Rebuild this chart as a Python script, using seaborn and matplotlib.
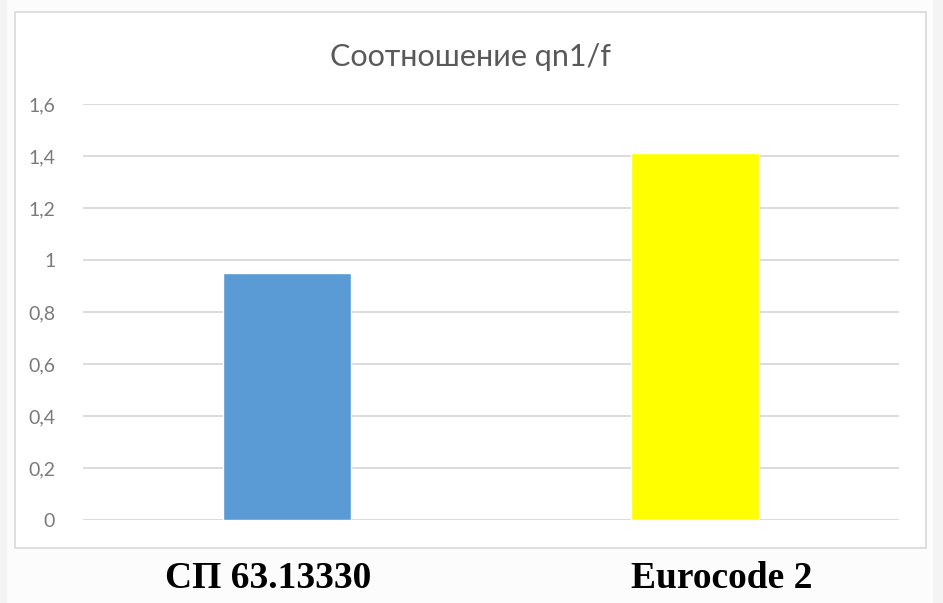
import matplotlib
matplotlib.use("Agg")
import matplotlib.pyplot as plt
from matplotlib.patches import Rectangle
import seaborn as sns
import pandas as pd

categories = ["СП 63.13330", "Eurocode 2"]
values = [0.95, 1.41]
bar_colors = ["#5b9bd5", "#ffff00"]
title = "Соотношение qn1/f"
y_ticks = [0, 0.2, 0.4, 0.6, 0.8, 1.0, 1.2, 1.4, 1.6]
y_tick_labels = ["0", "0,2", "0,4", "0,6", "0,8", "1", "1,2", "1,4", "1,6"]

sns.set_theme(style="white")
plt.rcParams["font.family"] = ["Lato", "DejaVu Sans"]

W, H = 943, 603
fig = plt.figure(figsize=(W / 100, H / 100), dpi=100)
fig.patch.set_facecolor("#f4f4f4")

def px(x0, y0, x1, y1):
    """Convert a pixel box (top-left origin) to figure fractions."""
    return x0 / W, 1 - y1 / H, (x1 - x0) / W, (y1 - y0) / H

# page background and the chart frame
fx, fy, fw, fh = px(7, 0, 933, 603)
fig.patches.append(Rectangle((fx, fy), fw, fh, transform=fig.transFigure,
                             facecolor="#fcfcfc", edgecolor="none", zorder=-2))
bx, by, bw, bh = px(15, 12, 926, 548)
fig.patches.append(Rectangle((bx, by), bw, bh, transform=fig.transFigure,
                             facecolor="white", edgecolor="#d9d9d9",
                             linewidth=1.2, zorder=-1))

ax = fig.add_axes(px(83, 104, 899, 520))
ax.set_zorder(2)
ax.set_facecolor("none")

df = pd.DataFrame({"category": categories, "value": values})
sns.barplot(data=df, x="category", y="value", hue="category",
            palette=bar_colors, width=0.314, saturation=1,
            legend=False, ax=ax, zorder=3)

ax.set_ylim(0, 1.6)
ax.set_xlim(-0.5, 1.5)
ax.set_yticks(y_ticks)
ax.set_yticklabels(y_tick_labels, color="#7a7a7a", fontsize=14)
ax.tick_params(axis="y", length=0, pad=20)
ax.set_xticks([])
ax.set_xlabel("")
ax.set_ylabel("")
ax.grid(axis="y", color="#d9d9d9", linewidth=1.3, zorder=0)
ax.set_axisbelow(True)
for s in ax.spines.values():
    s.set_visible(False)

fig.text(471 / W, 1 - 57 / H, title, ha="center", va="center",
         color="#595959", fontsize=22)

# category captions beneath the frame
label_x = [268, 722]
for name, x in zip(categories, label_x):
    fig.text(x / W, 1 - 578 / H, name, ha="center", va="center",
             family="Liberation Serif", fontweight="bold",
             fontsize=27, color="black")

fig.savefig("out.png", dpi=100, facecolor=fig.get_facecolor())
